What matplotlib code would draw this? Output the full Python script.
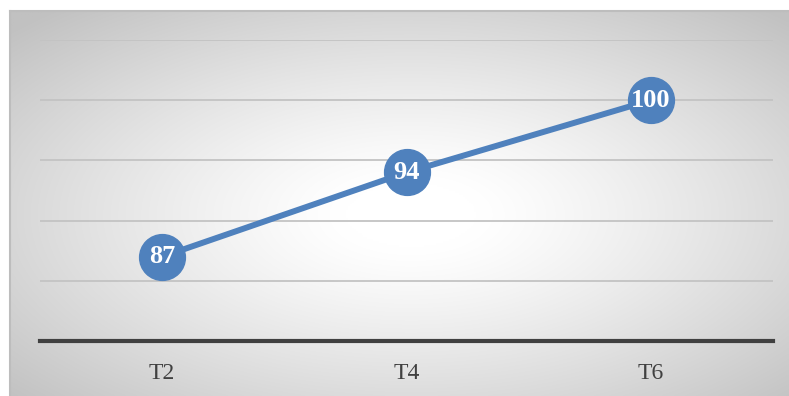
import matplotlib
matplotlib.use('Agg')
import matplotlib.pyplot as plt
import numpy as np

categories = ['T2', 'T4', 'T6']
values = [87, 94, 100]
y_ticks = [80, 85, 90, 95, 100, 105]

W, H = 789, 396
fig = plt.figure(figsize=(W / 100, H / 100), dpi=100)
fig.patch.set_facecolor('white')

# radial gradient background (white centre, grey edges)
bg = fig.add_axes([10 / W, 0, (W - 10) / W, (H - 11) / H])
bg.set_axis_off()
gx, gy = np.meshgrid(np.linspace(-1.03, 0.97, 400), np.linspace(-1.06, 0.94, 200))
d = np.sqrt(gx ** 2 + gy ** 2) / np.sqrt(2)
shade = 255 - 62 * np.clip((d - 0.12) / 0.88, 0, 1) ** 1.2
img = np.dstack([shade, shade, shade]) / 255.0
bg.imshow(img, aspect='auto', extent=[0, 1, 0, 1], interpolation='bilinear')
bg.plot([0, 0], [0, 1], color='#bdbdbd', lw=1.5, transform=bg.transAxes, clip_on=False)
bg.plot([0, 1], [1, 1], color='#bdbdbd', lw=1.5, transform=bg.transAxes, clip_on=False)
bg.set_xlim(0, 1)
bg.set_ylim(0, 1)

ax = fig.add_axes([40 / W, 1 - 341 / H, (773 - 40) / W, (341 - 40) / H])
ax.patch.set_alpha(0)
for s in ax.spines.values():
    s.set_visible(False)

x = np.arange(len(categories))
ax.set_xlim(-0.5, len(categories) - 0.5)
ax.set_ylim(y_ticks[0], y_ticks[-1])
for t in y_ticks[1:]:
    ax.axhline(t, color='#c3c3c3', lw=1.3, zorder=1)
ax.axhline(y_ticks[0], color='#404040', lw=3, zorder=2, clip_on=False)

ax.plot(x, values, color='#4f81bd', lw=4.3, marker='o', markersize=33,
        markerfacecolor='#4f81bd', markeredgecolor='#4f81bd', zorder=3,
        solid_capstyle='butt', clip_on=False)
for xi, v in zip(x, values):
    ax.text(xi, v, str(v), ha='center', va='center', color='white',
            fontsize=19, fontweight='bold', family='Liberation Serif', zorder=4)

ax.set_yticks([])
ax.set_xticks(x)
ax.set_xticklabels(categories, family='Liberation Serif', fontsize=17, color='#404040')
ax.tick_params(axis='x', length=0, pad=16)

fig.savefig('out.png', dpi=100)
